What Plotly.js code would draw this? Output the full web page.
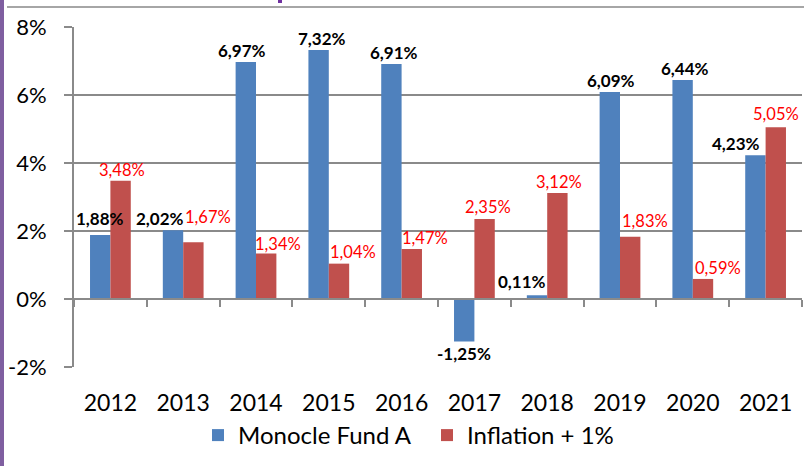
<!DOCTYPE html>
<html>
<head>
<meta charset="utf-8">
<script src="https://cdn.plot.ly/plotly-3.0.1.min.js"></script>
<style>html,body{margin:0;padding:0;background:#fff;}#chart{width:804px;height:466px;}</style>
</head>
<body>
<div id="chart"></div>
<script>
// ---- data ----
const years = ['2012','2013','2014','2015','2016','2017','2018','2019','2020','2021'];
const fundName = 'Monocle Fund A';
const inflName = 'Inflation + 1%';
const fundValues = [1.88, 2.02, 6.97, 7.32, 6.91, -1.25, 0.11, 6.09, 6.44, 4.23];
const inflValues = [3.48, 1.67, 1.34, 1.04, 1.47, 2.35, 3.12, 1.83, 0.59, 5.05];
const yTickValues = [-2, 0, 2, 4, 6, 8];

// ---- style ----
const W = 804, H = 466;
const M = {l: 74, r: 2, t: 27, b: 99};
const plotW = W - M.l - M.r;
const plotH = H - M.t - M.b;
const bargap = 0.44;
const catPx = plotW / years.length;
const barPx = catPx * (1 - bargap) / 2;
const FONT = 'Lato, "Open Sans", sans-serif';
const BLUE = '#4F81BD', RED = '#C0504D';
const GRID = '#8a8a8a';
const catRange = [-0.5, years.length - 0.5];
// label nudges (px) [dx, dy-up], like the hand-moved labels of the original
const fundNudge = [[0,5],[-13,0],[-4,0],[3,0],[3,0],[0,0],[-15,2],[1,0],[2,0],[-19,0]];
const inflNudge = [[1,0],[15,14],[12,-2],[14,1],[13,0],[3,1],[2,0],[15,5],[15,0],[0,2]];

function fmt(v){ return v.toFixed(2).replace('.', ',') + '%'; }
function px2x(p){ return (p - M.l) / plotW; }
function px2y(p){ return (H - M.b - p) / plotH; }

const traces = [
  {type:'bar', name: fundName, x: years, y: fundValues, marker:{color: BLUE, line:{width:0}}, hoverinfo:'skip'},
  {type:'bar', name: inflName, x: years, y: inflValues, marker:{color: RED, line:{width:0}}, hoverinfo:'skip'},
  // carrier for the category axis drawn across 0 %
  {type:'scatter', mode:'none', x: years, y: fundValues, xaxis:'x2', yaxis:'y', showlegend:false, hoverinfo:'skip'}
];

const annotations = [];
years.forEach((yr, i) => {
  // x given as the category index on the category axis
  const fv = fundValues[i];
  annotations.push({
    x: i, y: fv, xref:'x', yref:'y', text: fmt(fv), showarrow:false,
    xanchor:'center', yanchor: fv >= 0 ? 'bottom' : 'top',
    xshift: -barPx/2 + fundNudge[i][0], yshift: (fv >= 0 ? -1 : 1) + fundNudge[i][1],
    font:{family: FONT, size:17, color:'#000', weight:'bold'}
  });
  const iv = inflValues[i];
  annotations.push({
    x: i, y: iv, xref:'x', yref:'y', text: fmt(iv), showarrow:false,
    xanchor:'center', yanchor:'bottom',
    xshift: barPx/2 + inflNudge[i][0], yshift: -1 + inflNudge[i][1],
    font:{family: FONT, size:16.5, color:'#FF0000'}
  });
});

const shapes = [
  {type:'rect', xref:'paper', yref:'paper', x0: px2x(0), x1: px2x(4), y0: px2y(H), y1: px2y(0), fillcolor:'#7F5FA0', line:{width:0}, layer:'above'},
  {type:'line', xref:'paper', yref:'paper', x0: px2x(7), x1: px2x(W), y0: px2y(7), y1: px2y(7), line:{color:'#a6a6a6', width:2}},
  {type:'rect', xref:'paper', yref:'paper', x0: px2x(278), x1: px2x(282), y0: px2y(3), y1: px2y(0), fillcolor:'#7030A0', line:{width:0}}
];

const layout = {
  width: W, height: H,
  margin: M,
  paper_bgcolor:'#fff', plot_bgcolor:'#fff',
  font:{family: FONT, color:'#000'},
  barmode:'group', bargap: bargap, bargroupgap: 0,
  showlegend: true,
  legend:{orientation:'h', x: px2x(198), xanchor:'left', y: px2y(413), yanchor:'top',
          entrywidth: 184, entrywidthmode:'pixels',
          font:{family: FONT, size:24, color:'#000'}, bgcolor:'rgba(0,0,0,0)', itemwidth:30},
  xaxis:{type:'category', categoryorder:'array', categoryarray: years, range: catRange,
         showgrid:false, showline:false, zeroline:false, ticks:'',
         tickfont:{family: FONT, size:23, color:'#000'}, ticklabelstandoff: 20, fixedrange:true},
  xaxis2:{type:'category', overlaying:'x', anchor:'free', position: (0 - (-2)) / 10,
          categoryorder:'array', categoryarray: years, range: catRange,
          showgrid:false, zeroline:false, showline:true, linecolor: GRID, linewidth:2,
          ticks:'outside', ticklen:7, tickwidth:2, tickcolor: GRID, tickson:'boundaries',
          showticklabels:false, fixedrange:true},
  yaxis:{range:[-2, 8], tickmode:'array', tickvals: yTickValues, ticktext: yTickValues.map(v => v + '%'),
         showgrid:true, gridcolor: GRID, gridwidth:1.5, zeroline:false,
         showline:true, linecolor: GRID, linewidth:2,
         ticks:'outside', ticklen:8, tickwidth:1.5, tickcolor: GRID,
         tickfont:{family: FONT, size:22, color:'#000'}, ticklabelstandoff: 13, fixedrange:true},
  annotations: annotations,
  shapes: shapes
};

Plotly.newPlot('chart', traces, layout, {staticPlot:true, displayModeBar:false});
</script>
</body>
</html>
